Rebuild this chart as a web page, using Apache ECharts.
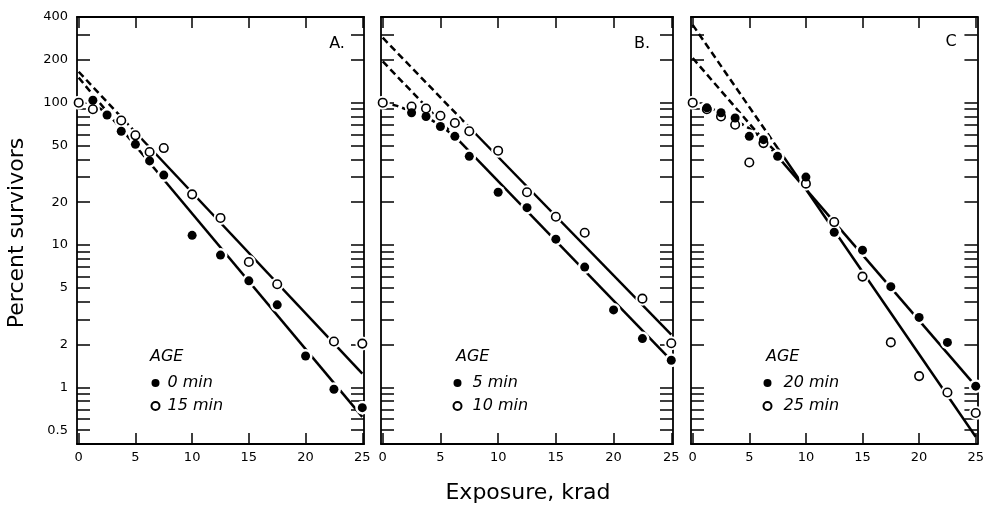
<!DOCTYPE html>
<html>
<head>
<meta charset="utf-8">
<script src="https://cdn.jsdelivr.net/npm/echarts@6/dist/echarts.min.js"></script>
<style>html,body{margin:0;padding:0;background:#fff}#c{width:987px;height:509px}</style>
</head>
<body>
<div id="c"></div>
<script>
// ---------- data ----------
const xTicks = [0, 5, 10, 15, 20, 25];
const yLabels = [0.5, 1, 2, 5, 10, 20, 50, 100, 200, 400];
const yMinorTicks = [0.5,0.6,0.7,0.8,0.9,1,2,3,4,5,6,7,8,9,10,20,30,40,50,60,70,80,90,100,200,300];

// Panel A
const A_fill_x = [1.25, 2.5, 3.75, 5, 6.25, 7.5, 10, 12.5, 15, 17.5, 20, 22.5, 25];
const A_fill_y = [104, 82, 63, 51, 39, 31, 11.7, 8.5, 5.6, 3.8, 1.66, 0.97, 0.72];
const A_open_x = [0, 1.25, 3.75, 5, 6.25, 7.5, 10, 12.5, 15, 17.5, 22.5, 25];
const A_open_y = [100, 90, 75, 59, 45, 48, 22.7, 15.5, 7.6, 5.3, 2.1, 2.03];
const A_fitFill_x = [0, 4, 25];
const A_fitFill_y = [150, 62, 0.62];
const A_fitOpen_x = [0, 5, 25];
const A_fitOpen_y = [165, 62, 1.25];
const A_shoulder_x = [0, 1.25, 2.5, 4];
const A_shoulder_y = [100, 97, 85, 62];

// Panel B
const B_fill_x = [2.5, 3.75, 5, 6.25, 7.5, 10, 12.5, 15, 17.5, 20, 22.5, 25];
const B_fill_y = [85, 80, 68, 58, 42, 23.5, 18.3, 11, 7, 3.5, 2.2, 1.55];
const B_open_x = [0, 2.5, 3.75, 5, 6.25, 7.5, 10, 12.5, 15, 17.5, 22.5, 25];
const B_open_y = [100, 94, 91, 81, 72, 63, 46, 23.5, 15.8, 12.2, 4.2, 2.04];
const B_fitFill_x = [0, 6.25, 25];
const B_fitFill_y = [195, 58, 1.55];
const B_fitOpen_x = [0, 8, 25];
const B_fitOpen_y = [286, 61, 2.35];
const B_shoulder_x = [0, 1.25, 2.5, 3.75, 5, 6.25];
const B_shoulder_y = [100, 95, 87, 80, 69, 58];

// Panel C
const C_fill_x = [1.25, 2.5, 3.75, 5, 6.25, 7.5, 10, 12.5, 15, 17.5, 20, 22.5, 25];
const C_fill_y = [92, 85, 78, 58, 55, 42, 30, 12.3, 9.2, 5.1, 3.1, 2.07, 1.02];
const C_open_x = [0, 1.25, 2.5, 3.75, 5, 6.25, 10, 12.5, 15, 17.5, 20, 22.5, 25];
const C_open_y = [100, 90, 80, 70, 38, 52, 27, 14.5, 6, 2.07, 1.2, 0.92, 0.66];
const C_fitFill_x = [0, 7.5, 25];
const C_fitFill_y = [206, 42, 1.02];
const C_fitOpen_x = [0, 7.5, 25];
const C_fitOpen_y = [352, 48, 0.45];
const C_shoulder_x = [0, 2.5, 5, 6.25, 7.5];
const C_shoulder_y = [100, 86, 66, 55, 44];

const panelNames = ['A.', 'B.', 'C'];
const legendNames = [['0 min', '15 min'], ['5 min', '10 min'], ['20 min', '25 min']];

// ---------- build ----------
const L = Math.log10;
const FONT = "'DejaVu Sans', sans-serif";
const yMin = L(0.4), yMax = L(400);
const xMin = -0.15, xMax = 25.15;

const panels = [
  {fx: A_fill_x, fy: A_fill_y, ox: A_open_x, oy: A_open_y, ffx: A_fitFill_x, ffy: A_fitFill_y, fox: A_fitOpen_x, foy: A_fitOpen_y, sx: A_shoulder_x, sy: A_shoulder_y},
  {fx: B_fill_x, fy: B_fill_y, ox: B_open_x, oy: B_open_y, ffx: B_fitFill_x, ffy: B_fitFill_y, fox: B_fitOpen_x, foy: B_fitOpen_y, sx: B_shoulder_x, sy: B_shoulder_y},
  {fx: C_fill_x, fy: C_fill_y, ox: C_open_x, oy: C_open_y, ffx: C_fitFill_x, ffy: C_fitFill_y, fox: C_fitOpen_x, foy: C_fitOpen_y, sx: C_shoulder_x, sy: C_shoulder_y}
];
const gridBoxes = [
  {left: 77, top: 17, width: 287, height: 427},
  {left: 381, top: 17, width: 292, height: 427},
  {left: 691, top: 17, width: 292, height: 427}
];
const legendPos = [
  {left: 150.5, pad: 3, ageLeft: 150},
  {left: 452.5, pad: 6, ageLeft: 456},
  {left: 762.5, pad: 7, ageLeft: 766}
];

function pts(xs, ys) { return xs.map((x, i) => [x, L(ys[i])]); }

const grid = [], xAxis = [], yAxis = [], series = [], legend = [], graphic = [];
const axisLineStyle = {color: '#000', width: 1.8};
const tickStyle = {color: '#000', width: 1.5};

panels.forEach((p, i) => {
  grid.push(gridBoxes[i]);
  xAxis.push({
    type: 'value', gridIndex: i, min: xMin, max: xMax, position: 'bottom',
    axisLine: {show: true, onZero: false, lineStyle: axisLineStyle},
    axisTick: {show: true, inside: true, length: 11, customValues: xTicks, lineStyle: tickStyle},
    axisLabel: {show: true, customValues: xTicks, margin: 7, fontFamily: FONT, fontSize: 13, color: '#000'},
    splitLine: {show: false}
  });
  xAxis.push({
    type: 'value', gridIndex: i, min: xMin, max: xMax, position: 'top',
    axisLine: {show: true, onZero: false, lineStyle: axisLineStyle},
    axisTick: {show: true, inside: true, length: 11, customValues: xTicks, lineStyle: tickStyle},
    axisLabel: {show: false}, splitLine: {show: false}
  });
  yAxis.push({
    type: 'value', gridIndex: i, min: yMin, max: yMax, position: 'left',
    axisLine: {show: true, onZero: false, lineStyle: axisLineStyle},
    axisTick: {show: true, inside: true, length: 13, customValues: yMinorTicks.map(L), lineStyle: tickStyle},
    axisLabel: {
      show: i === 0, customValues: yLabels.map(L), margin: 9, fontFamily: FONT, fontSize: 13, color: '#000',
      formatter: v => { const val = Math.pow(10, v); return val < 0.999 ? val.toFixed(1) : String(Math.round(val)); }
    },
    splitLine: {show: false}
  });
  yAxis.push({
    type: 'value', gridIndex: i, min: yMin, max: yMax, position: 'right',
    axisLine: {show: true, onZero: false, lineStyle: axisLineStyle},
    axisTick: {show: true, inside: true, length: 13, customValues: yMinorTicks.map(L), lineStyle: tickStyle},
    axisLabel: {show: false}, splitLine: {show: false}
  });

  const xi = 2 * i, yi = 2 * i;
  const lineBase = {type: 'line', xAxisIndex: xi, yAxisIndex: yi, showSymbol: false, symbol: 'none', silent: true, z: 2, animation: false};
  const dashed = {color: '#000', width: 2.5, type: [7, 4]};
  const solid = {color: '#000', width: 2.5, type: 'solid'};
  [[p.ffx, p.ffy], [p.fox, p.foy]].forEach(([xs, ys]) => {
    const d = pts(xs, ys);
    series.push(Object.assign({}, lineBase, {data: [d[0], d[1]], lineStyle: dashed}));
    series.push(Object.assign({}, lineBase, {data: [d[1], d[2]], lineStyle: solid}));
  });
  series.push(Object.assign({}, lineBase, {data: pts(p.sx, p.sy), lineStyle: {color: '#000', width: 2.5, type: [6, 4]}}));

  series.push({
    type: 'scatter', xAxisIndex: xi, yAxisIndex: yi, silent: true, z: 3, animation: false,
    symbol: 'circle', symbolSize: 14, itemStyle: {color: '#fff', opacity: 1},
    data: pts(p.fx, p.fy).concat(pts(p.ox, p.oy))
  });
  series.push({
    name: legendNames[i][1], type: 'scatter', xAxisIndex: xi, yAxisIndex: yi, z: 4, animation: false,
    symbol: 'circle', symbolSize: 8.5, itemStyle: {color: '#fff', borderColor: '#000', borderWidth: 1.6, opacity: 1},
    data: pts(p.ox, p.oy)
  });
  series.push({
    name: legendNames[i][0], type: 'scatter', xAxisIndex: xi, yAxisIndex: yi, z: 5, animation: false,
    symbol: 'circle', symbolSize: 9, itemStyle: {color: '#000', opacity: 1},
    data: pts(p.fx, p.fy)
  });

  legend.push({
    data: [{name: legendNames[i][0], icon: 'circle'}, {name: legendNames[i][1], icon: 'circle'}],
    orient: 'vertical', left: legendPos[i].left, top: 375, itemWidth: 8, itemHeight: 8, itemGap: 7,
    selectedMode: false, padding: 0,
    textStyle: {fontFamily: FONT, fontStyle: 'italic', fontSize: 16, color: '#000', padding: [0, 0, 0, legendPos[i].pad]}
  });

  graphic.push({
    type: 'text', left: legendPos[i].ageLeft, top: 349,
    style: {text: 'AGE', font: 'italic 16px ' + FONT, fill: '#000'}
  });
});

graphic.push({type: 'text', x: 337, y: 44, style: {text: panelNames[0], font: '16px ' + FONT, fill: '#000', align: 'center', verticalAlign: 'middle'}});
graphic.push({type: 'text', x: 642, y: 44, style: {text: panelNames[1], font: '16px ' + FONT, fill: '#000', align: 'center', verticalAlign: 'middle'}});
graphic.push({type: 'text', x: 951, y: 42, style: {text: panelNames[2], font: '16px ' + FONT, fill: '#000', align: 'center', verticalAlign: 'middle'}});
graphic.push({type: 'text', x: 17, y: 233, rotation: Math.PI / 2, style: {text: 'Percent survivors', font: '22px ' + FONT, fill: '#000', align: 'center', verticalAlign: 'middle'}});
graphic.push({type: 'text', x: 528, y: 493, style: {text: 'Exposure, krad', font: '22px ' + FONT, fill: '#000', align: 'center', verticalAlign: 'middle'}});

const chart = echarts.init(document.getElementById('c'), null, {renderer: 'canvas'});
chart.setOption({
  backgroundColor: '#fff',
  animation: false,
  grid, xAxis, yAxis, series, legend, graphic
});
</script>
</body>
</html>
